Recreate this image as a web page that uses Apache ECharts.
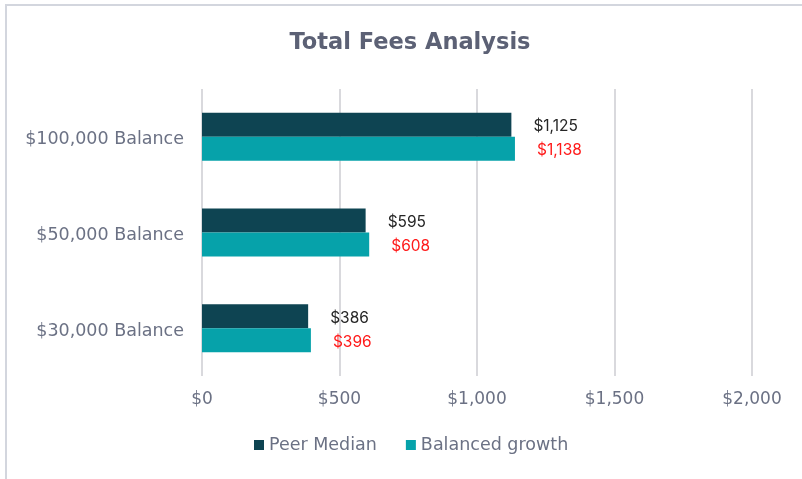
<!DOCTYPE html>
<html>
<head>
<meta charset="utf-8">
<script src="https://cdn.jsdelivr.net/npm/echarts@6/dist/echarts.min.js"></script>
<style>
  html, body { margin: 0; padding: 0; background: #fff; }
  #frame {
    position: absolute; left: 5px; top: 4px; width: 820px; height: 500px;
    border-top: 2px solid #d3d6de; border-left: 2px solid #d3d6de;
  }
  #chart { position: absolute; left: 0; top: 0; width: 802px; height: 479px; }
</style>
</head>
<body>
<div id="frame"></div>
<div id="chart"></div>
<script>
// categories bottom -> top (horizontal bars)
const categories = ['$30,000 Balance', '$50,000 Balance', '$100,000 Balance'];
const peerMedian = [386, 595, 1125];
const balancedGrowth = [396, 608, 1138];
const xTicks = [0, 500, 1000, 1500, 2000];

const fmt = v => '$' + v.toLocaleString('en-US');
const font = '"DejaVu Sans", sans-serif';
const valFont = 'Inter, "Noto Sans", sans-serif';

let myChart = echarts.init(document.getElementById('chart'), null, { renderer: 'canvas' });
let option = {
    animation: false,
    title: {
        text: 'Total Fees Analysis',
        left: 410, top: 32, padding: 0, textAlign: 'center',
        textStyle: { fontFamily: font, fontWeight: 'bold', fontSize: 22.5, color: '#5c6175' }
    },
    legend: {
        top: 436, left: 254, padding: 0,
        itemWidth: 10, itemHeight: 10, itemGap: 29,
        icon: 'rect',
        textStyle: { fontFamily: font, fontSize: 17.5, color: '#6b7184' },
        data: ['Peer Median', 'Balanced growth']
    },
    grid: { left: 202, right: 50, top: 89, bottom: 103, containLabel: false },
    xAxis: {
        type: 'value', min: xTicks[0], max: xTicks[xTicks.length - 1], interval: 500,
        axisLine: { show: false }, axisTick: { show: false },
        splitLine: { lineStyle: { color: '#d9d9dd', width: 2 } },
        axisLabel: { formatter: fmt, margin: 15, fontFamily: font, fontSize: 17, color: '#6b7184' }
    },
    yAxis: {
        type: 'category', data: categories,
        axisLine: { show: false }, axisTick: { show: false },
        axisLabel: { margin: 18, fontFamily: font, fontSize: 17.5, color: '#6b7184', lineHeight: 22, verticalAlign: 'top', padding: [-8, 0, 0, 0] }
    },
    series: [
        {
            name: 'Peer Median', type: 'bar', data: peerMedian,
            barWidth: 24, barGap: '0%',
            itemStyle: { color: '#0e4452' },
            label: { show: true, position: 'right', distance: 22, offset: [0, 2], formatter: p => fmt(p.value),
                     fontFamily: valFont, fontSize: 15.5, color: '#262626' }
        },
        {
            name: 'Balanced growth', type: 'bar', data: balancedGrowth,
            barWidth: 24,
            itemStyle: { color: '#06a2aa' },
            label: { show: true, position: 'right', distance: 22, offset: [0, 2], formatter: p => fmt(p.value),
                     fontFamily: valFont, fontSize: 15.5, color: '#ff1a1a' }
        }
    ]
};
option && myChart.setOption(option);
</script>
</body>
</html>
